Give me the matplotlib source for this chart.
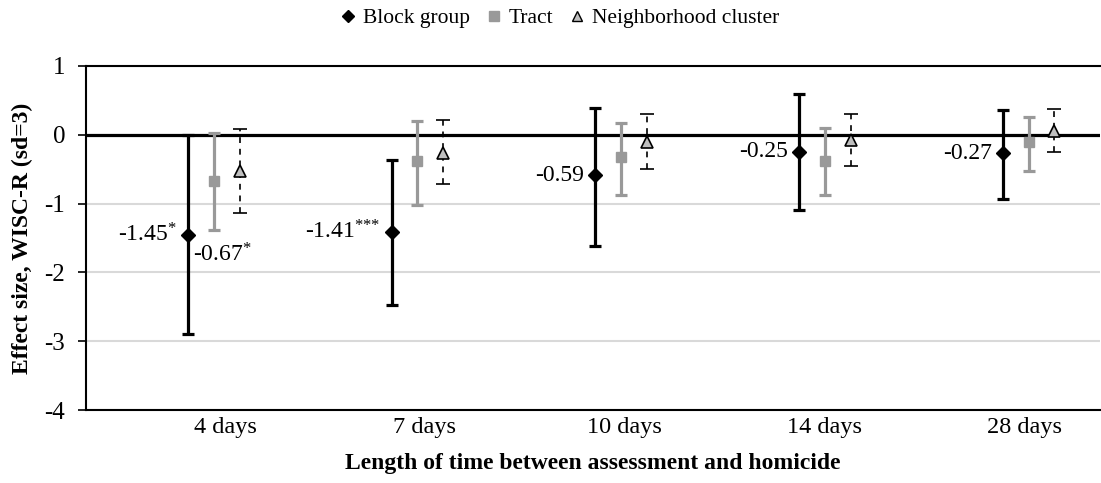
import numpy as np
import matplotlib
matplotlib.use('Agg')
import matplotlib.pyplot as plt
from matplotlib.lines import Line2D

plt.rcParams['font.family'] = ['Liberation Serif', 'DejaVu Serif']
plt.rcParams['mathtext.fontset'] = 'custom'
plt.rcParams['mathtext.rm'] = 'Liberation Serif'
plt.rcParams['mathtext.it'] = 'Liberation Serif'


# ====== DATA ======

categories = ['4 days', '7 days', '10 days', '14 days', '28 days']

# Block group: estimate, lower and upper bound
block_mean = [-1.45, -1.41, -0.59, -0.25, -0.27]
block_low  = [-2.90, -2.48, -1.61, -1.09, -0.93]
block_high = [0.00, -0.36, 0.39, 0.60, 0.36]

# Tract
tract_mean = [-0.67, -0.38, -0.32, -0.38, -0.10]
tract_low  = [-1.39, -1.02, -0.87, -0.87, -0.52]
tract_high = [0.03, 0.20, 0.17, 0.10, 0.26]

# Neighborhood cluster
nc_mean = [-0.52, -0.26, -0.10, -0.07, 0.06]
nc_low  = [-1.13, -0.72, -0.49, -0.46, -0.25]
nc_high = [0.09, 0.22, 0.30, 0.30, 0.38]

block_labels = [r'-1.45$^{*}$', r'-1.41$^{{*}{*}{*}}$', '-0.59', '-0.25', '-0.27']
tract_label = r'-0.67$^{*}$'


# ====== PLOT ======

fig = plt.figure(figsize=(11.01, 4.83), dpi=100)
ax = fig.add_axes([0.0781, 0.1511, 0.9210, 0.7123])

x = np.arange(len(categories))
xb = x * 1.02 - 0.186
xt = xb + 0.128
xn = xb + 0.258

def yerr(mean, low, high):
    mean = np.array(mean); low = np.array(low); high = np.array(high)
    return [mean - low, high - mean]

ax.axhline(0, color='black', lw=2.3, zorder=2)

ax.errorbar(xb, block_mean, yerr=yerr(block_mean, block_low, block_high), fmt='D',
            color='black', ms=7.5, elinewidth=2.3, capsize=4.5, capthick=2.3, zorder=4)
ax.errorbar(xt, tract_mean, yerr=yerr(tract_mean, tract_low, tract_high), fmt='s',
            color='#999999', ms=7.5, elinewidth=2.3, capsize=4.5, capthick=2.3, zorder=4)
eb = ax.errorbar(xn, nc_mean, yerr=yerr(nc_mean, nc_low, nc_high), fmt='^',
                 color='black', mfc='#bfbfbf', mec='black', ms=9, mew=1.2,
                 elinewidth=1.2, capsize=5, capthick=1.2, zorder=4)
eb[2][0].set_linestyle((0, (3.5, 3.5)))

for i in range(len(categories)):
    ax.annotate(block_labels[i], (xb[i], block_mean[i]), xytext=(-8, 0),
                textcoords='offset points', ha='right', va='center', fontsize=17)
ax.annotate(tract_label, (xt[0], tract_mean[0]), xytext=(-15, -53),
            textcoords='offset points', ha='left', va='center', fontsize=17)

ax.set_xlim(-0.697, 4.38)
ax.set_ylim(-4, 1)
ax.set_yticks([1, 0, -1, -2, -3, -4])
ax.set_yticklabels(['1', '0', '-1', '-2', '-3', '-4'])
ax.set_xticks(x)
ax.set_xticklabels(categories)
ax.yaxis.grid(True, color='#d9d9d9', lw=1.5)
ax.set_axisbelow(True)

ax.tick_params(axis='y', direction='out', length=6, width=1.2, pad=9, labelsize=18)
ax.tick_params(axis='x', length=0, pad=5, labelsize=17.5)

for s in ['left', 'bottom', 'top']:
    ax.spines[s].set_linewidth(1.5)
    ax.spines[s].set_color('black')
ax.spines['right'].set_visible(False)

ax.set_ylabel('Effect size, WISC-R (sd=3)', fontsize=17, fontweight='bold')
ax.yaxis.set_label_coords(-0.052, 0.5)
ax.set_xlabel('Length of time between assessment and homicide', fontsize=17,
              fontweight='bold', labelpad=11)

handles = [
    Line2D([], [], ls='none', marker='D', color='black', ms=6),
    Line2D([], [], ls='none', marker='s', color='#999999', ms=6.5),
    Line2D([], [], ls='none', marker='^', mfc='#bfbfbf', mec='black', ms=7, mew=1),
]
fig.legend(handles, ['Block group', 'Tract', 'Neighborhood cluster'], loc='center',
           bbox_to_anchor=(0.508, 0.962), ncol=3, frameon=False, fontsize=15.5,
           handlelength=0.8, handletextpad=0.3, columnspacing=0.7)

plt.savefig('out.png', dpi=100)
plt.close()
